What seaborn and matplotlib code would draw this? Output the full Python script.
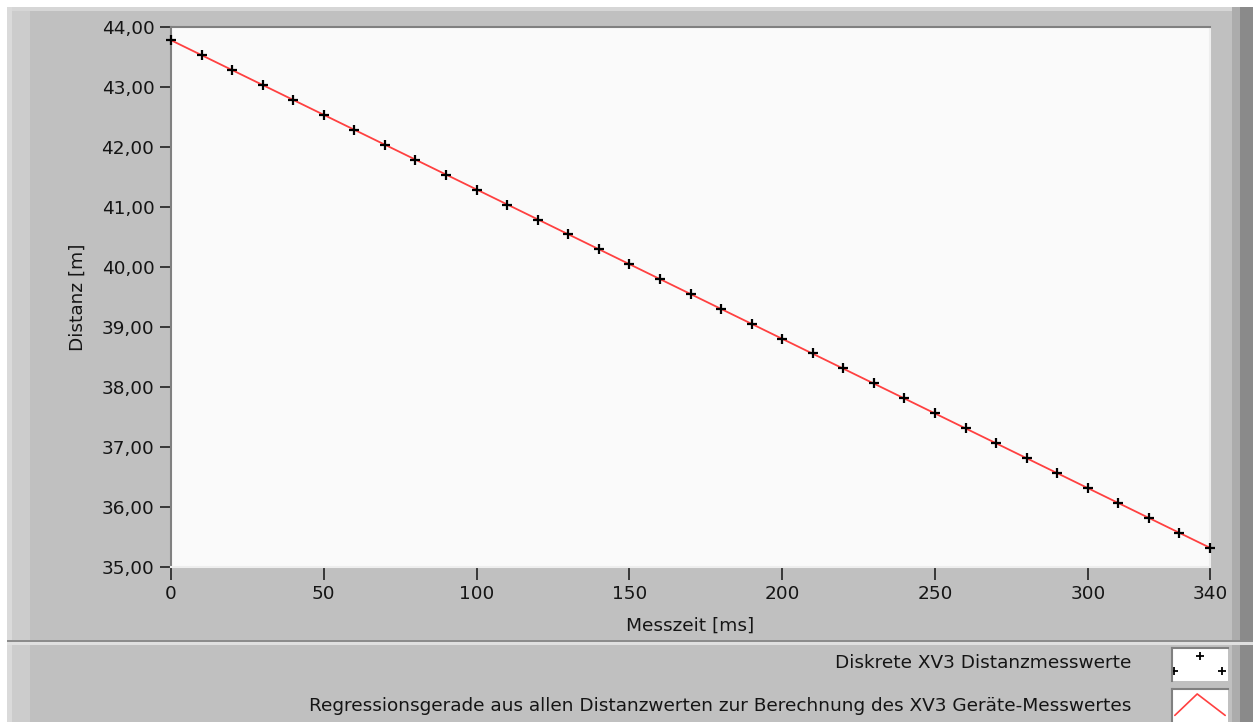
import matplotlib
matplotlib.use("Agg")
import matplotlib.pyplot as plt
import matplotlib.ticker as tkr
from matplotlib.patches import Rectangle
import seaborn as sns
import pandas as pd

# measurement times [ms] and distances [m]
messzeit = [0, 10, 20, 30, 40, 50, 60, 70, 80, 90, 100, 110, 120, 130, 140, 150, 160,
            170, 180, 190, 200, 210, 220, 230, 240, 250, 260, 270, 280, 290, 300, 310,
            320, 330, 340]
distanz = [43.78, 43.53, 43.28, 43.03, 42.78, 42.54, 42.29, 42.04, 41.79, 41.54,
           41.29, 41.04, 40.79, 40.55, 40.30, 40.05, 39.80, 39.55, 39.30, 39.05,
           38.80, 38.56, 38.31, 38.06, 37.81, 37.56, 37.31, 37.06, 36.81, 36.57,
           36.32, 36.07, 35.82, 35.57, 35.32]
reg_x = [0, 340]
reg_y = [43.78, 35.32]
x_ticks = [0, 50, 100, 150, 200, 250, 300, 340]
y_ticks = [35, 36, 37, 38, 39, 40, 41, 42, 43, 44]
legend_labels = ["Diskrete XV3 Distanzmesswerte",
                 "Regressionsgerade aus allen Distanzwerten zur Berechnung des XV3 Geräte-Messwertes"]

sns.set_theme(style="white")
plt.rcParams["font.family"] = ["DejaVu Sans"]
FS = 13.3
TXT = "#151515"

W, H = 1253, 722
fig = plt.figure(figsize=(W / 100, H / 100), dpi=100)
fig.patch.set_facecolor("#c0c0c0")


def px_rect(x0, y0, x1, y1, color, z=0):
    fig.patches.append(Rectangle((x0 / W, 1 - y1 / H), (x1 - x0) / W, (y1 - y0) / H,
                                 transform=fig.transFigure, facecolor=color,
                                 edgecolor="none", zorder=z))


# panel decoration (LabVIEW style)
px_rect(0, 0, W, 7, "#ffffff")
px_rect(0, 7, W, 11, "#d6d6d6")
px_rect(0, 0, 7, H, "#ffffff")
px_rect(7, 7, 12, 640, "#dadada")
px_rect(12, 11, 30, 640, "#cccccc")
px_rect(1232, 7, 1240, 640, "#acacac")
px_rect(1240, 7, W, 640, "#8a8a8a")
px_rect(7, 640, W, 642, "#8c8c8c")
px_rect(7, 642, W, 645, "#e0e0e0")
px_rect(7, 645, 12, H, "#dadada")
px_rect(12, 645, 30, H, "#cccccc")
px_rect(1232, 645, 1240, H, "#acacac")
px_rect(1240, 645, W, H, "#8a8a8a")

ax = fig.add_axes([171 / W, 1 - 567 / H, 1039 / W, 540 / H])
ax.set_facecolor("#fafafa")

df = pd.DataFrame({"Messzeit": messzeit, "Distanz": distanz})
reg = pd.DataFrame({"Messzeit": reg_x, "Distanz": reg_y})
sns.lineplot(data=reg, x="Messzeit", y="Distanz", color="#ff4040", linewidth=1.3, ax=ax)
sns.scatterplot(data=df, x="Messzeit", y="Distanz", marker="+", color="black",
                s=60, linewidth=1.6, ax=ax, zorder=3, clip_on=False)

ax.set_xlim(0, 340)
ax.set_ylim(35, 44)
ax.set_xticks(x_ticks)
ax.set_yticks(y_ticks)
ax.yaxis.set_major_formatter(tkr.FuncFormatter(lambda v, p: f"{v:.2f}".replace(".", ",")))
ax.tick_params(axis="y", which="major", direction="out", length=8, width=1.2,
               color="#202020", labelsize=FS, labelcolor=TXT, pad=4, left=True)
ax.tick_params(axis="x", which="major", direction="out", length=9, width=1.2,
               color="#202020", labelsize=FS, labelcolor=TXT, pad=4, bottom=True)
ax.set_xlabel("Messzeit [ms]", fontsize=FS, color=TXT)
ax.set_ylabel("Distanz [m]", fontsize=FS, color=TXT)
ax.xaxis.set_label_coords(0.5, -0.092)
ax.yaxis.set_label_coords(-0.081, 0.5)
for side in ["top", "left"]:
    ax.spines[side].set_color("#808080")
    ax.spines[side].set_linewidth(1.5)
for side in ["right", "bottom"]:
    ax.spines[side].set_color("#eeeeee")
    ax.spines[side].set_linewidth(1.5)

# legend area
fig.text(1131 / W, 1 - 663 / H, legend_labels[0], ha="right", va="center",
         fontsize=FS, color=TXT)
fig.text(1131 / W, 1 - 706 / H, legend_labels[1], ha="right", va="center",
         fontsize=FS, color=TXT)

ic1 = fig.add_axes([1172 / W, 1 - 681 / H, 56 / W, 33 / H])
ic2 = fig.add_axes([1172 / W, 1 - 722 / H, 56 / W, 33 / H])
for ic in (ic1, ic2):
    ic.set_facecolor("#ffffff")
    ic.set_xlim(0, 1)
    ic.set_ylim(0, 1)
    ic.set_xticks([])
    ic.set_yticks([])
    for side in ["top", "left"]:
        ic.spines[side].set_color("#808080")
        ic.spines[side].set_linewidth(1.5)
    for side in ["right", "bottom"]:
        ic.spines[side].set_visible(False)
ic1.scatter([0.03, 0.5, 0.9], [0.3, 0.75, 0.3], marker="+", color="black",
            s=40, linewidth=1.3, clip_on=True)
ic2.plot([0.05, 0.45, 0.95], [0.2, 0.85, 0.2], color="#ff4040", linewidth=1.2)

fig.savefig("out.png", dpi=100, facecolor=fig.get_facecolor())
